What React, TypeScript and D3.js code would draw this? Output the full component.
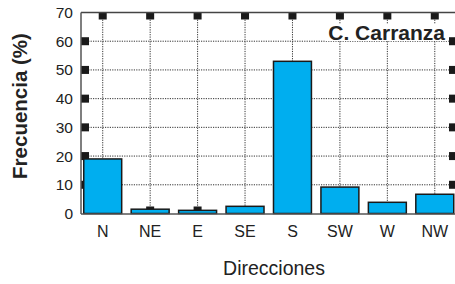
import React from "react";
import * as d3 from "d3";

const categories = ["N", "NE", "E", "SE", "S", "SW", "W", "NW"];
const values = [19.0, 1.5, 1.1, 2.5, 53.0, 9.2, 3.9, 6.7];
const yTicks = [0, 10, 20, 30, 40, 50, 60, 70];
const gridTicks = [10, 20, 30, 40, 50, 60];
const title = "C. Carranza";
const xLabel = "Direcciones";
const yLabel = "Frecuencia (%)";

const W = 455;
const H = 284;
const left = 81;
const right = 457;
const top = 12.5;
const bottom = 213.5;

export default function App() {
  const x = d3
    .scaleBand<string>()
    .domain(categories)
    .range([79, 458.5])
    .paddingInner(0.2)
    .paddingOuter(0.1);
  const y = d3.scaleLinear().domain([0, 70]).range([bottom, top]);
  const cx = (c: string) => (x(c) as number) + x.bandwidth() / 2;
  const sq = 8;
  const font = "Liberation Sans, Arial, sans-serif";
  const dash = "1.2,1.2";
  return (
    <svg
      width={W}
      height={H}
      style={{ position: "absolute", left: 0, top: 0, background: "#fff" }}
    >
      <rect x={0} y={0} width={W} height={H} fill="#fff" />
      {/* horizontal grid */}
      {gridTicks.map((t) => (
        <line
          key={"h" + t}
          x1={left}
          x2={right}
          y1={y(t)}
          y2={y(t)}
          stroke="#333"
          strokeWidth={1}
          strokeDasharray={dash}
        />
      ))}
      {/* vertical grid */}
      {categories.map((c) => (
        <line
          key={"v" + c}
          x1={cx(c)}
          x2={cx(c)}
          y1={top}
          y2={bottom}
          stroke="#333"
          strokeWidth={1}
          strokeDasharray={dash}
        />
      ))}
      {/* square tick marks */}
      {categories.map((c) => (
        <g key={"sq" + c}>
          <rect x={cx(c) - sq / 2} y={top} width={sq} height={sq - 1} fill="#1a1a1a" />
          <rect x={cx(c) - sq / 2} y={bottom - sq + 1} width={sq} height={sq - 1} fill="#1a1a1a" />
        </g>
      ))}
      {gridTicks.map((t) => (
        <g key={"sqy" + t}>
          <rect x={left} y={y(t) - sq / 2} width={sq} height={sq} fill="#1a1a1a" />
          <rect x={right - sq} y={y(t) - sq / 2} width={sq} height={sq} fill="#1a1a1a" />
        </g>
      ))}
      {/* title with white background */}
      <rect x={325} y={24} width={123} height={17} fill="#fff" />
      <text
        x={445}
        y={40}
        textAnchor="end"
        fontFamily={font}
        fontWeight="bold"
        fontSize={21}
        fill="#222"
      >
        {title}
      </text>
      {/* bars */}
      {categories.map((c, i) => (
        <rect
          key={"b" + c}
          x={x(c) as number}
          y={y(values[i])}
          width={x.bandwidth()}
          height={bottom - y(values[i])}
          fill="#00AEEF"
          stroke="#1a1a1a"
          strokeWidth={1.5}
        />
      ))}
      {/* frame */}
      <line x1={left} x2={right} y1={top} y2={top} stroke="#444" strokeWidth={1.5} />
      <line x1={left} x2={left} y1={top} y2={bottom + 0.5} stroke="#555" strokeWidth={1.5} />
      <line x1={left} x2={right} y1={bottom + 0.5} y2={bottom + 0.5} stroke="#555" strokeWidth={1.5} />
      {/* y tick labels */}
      {yTicks.map((t) => (
        <text
          key={"yl" + t}
          x={73}
          y={y(t) + 5.5}
          textAnchor="end"
          fontFamily={font}
          fontSize={15.5}
          fill="#222"
        >
          {t}
        </text>
      ))}
      {/* x tick labels */}
      {categories.map((c) => (
        <text
          key={"xl" + c}
          x={cx(c)}
          y={237}
          textAnchor="middle"
          fontFamily={font}
          fontSize={16}
          fill="#222"
        >
          {c}
        </text>
      ))}
      <text
        x={274}
        y={275}
        textAnchor="middle"
        fontFamily={font}
        fontSize={19.5}
        fill="#222"
      >
        {xLabel}
      </text>
      <text
        transform={`translate(27, 106) rotate(-90)`}
        textAnchor="middle"
        fontFamily={font}
        fontWeight="bold"
        fontSize={20.5}
        fill="#222"
      >
        {yLabel}
      </text>
    </svg>
  );
}
